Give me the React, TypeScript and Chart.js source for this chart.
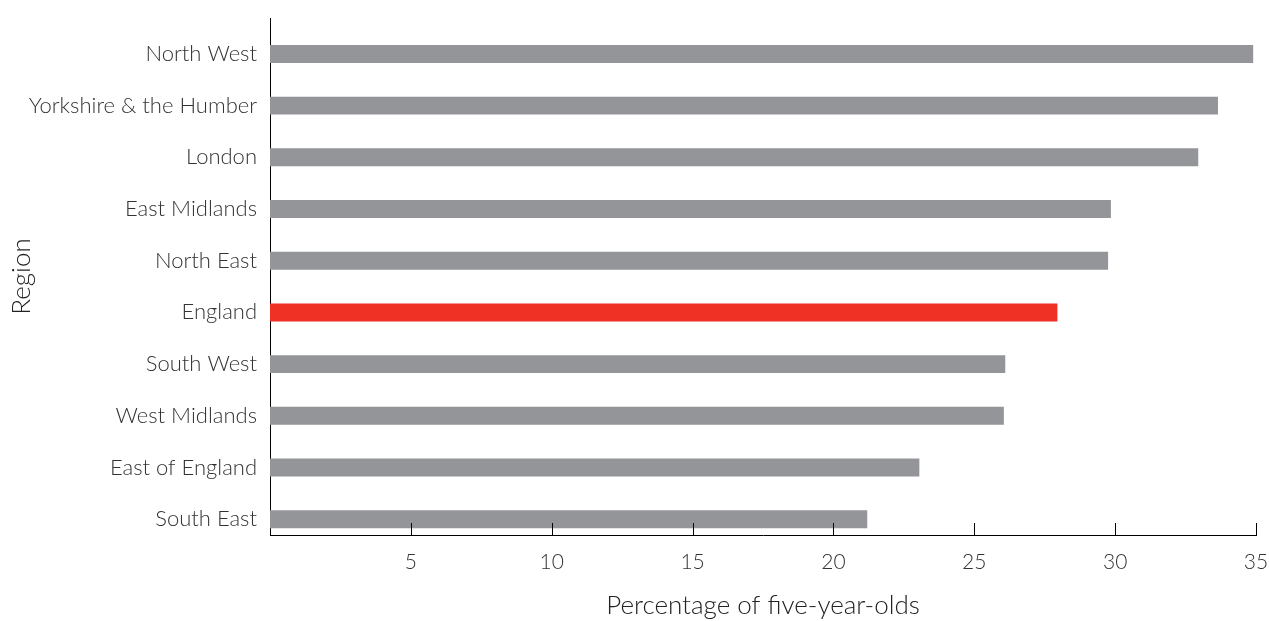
import React, { useEffect, useRef } from "react";
import { Chart, registerables } from "chart.js";

Chart.register(...registerables);

const regions = [
  "North West",
  "Yorkshire & the Humber",
  "London",
  "East Midlands",
  "North East",
  "England",
  "South West",
  "West Midlands",
  "East of England",
  "South East",
];
const percentages = [34.9, 33.65, 32.95, 29.85, 29.75, 27.95, 26.1, 26.05, 23.05, 21.2];
const barColors = regions.map((r) => (r === "England" ? "#EE3124" : "#939598"));
const xTicks = [5, 10, 15, 20, 25, 30, 35];

const FONT = "Lato, 'Open Sans', sans-serif";

const innerTicks = {
  id: "innerTicks",
  afterDraw(chart: any) {
    const x = chart.scales.x;
    const ctx = chart.ctx;
    const bottom = chart.chartArea.bottom;
    ctx.save();
    ctx.strokeStyle = "#000";
    ctx.lineWidth = 1;
    xTicks.forEach((v) => {
      const px = Math.round(x.getPixelForValue(v)) + 0.5;
      ctx.beginPath();
      ctx.moveTo(px, bottom);
      ctx.lineTo(px, bottom - 12);
      ctx.stroke();
    });
    ctx.restore();
  },
};

export default function App() {
  const ref = useRef<HTMLCanvasElement>(null);
  useEffect(() => {
    if (!ref.current) return;
    const chart = new Chart(ref.current, {
      type: "bar",
      data: {
        labels: regions,
        datasets: [
          { label: "spacer", data: [], backgroundColor: "transparent" },
          {
            label: "Percentage",
            data: percentages,
            backgroundColor: barColors,
          },
        ],
      },
      options: {
        indexAxis: "y",
        animation: false,
        responsive: false,
        maintainAspectRatio: false,
        layout: { padding: { top: 18, right: 13, left: 0, bottom: 0 } },
        datasets: { bar: { categoryPercentage: 0.78, barPercentage: 0.89 } } as any,
        plugins: { legend: { display: false }, tooltip: { enabled: false } },
        scales: {
          x: {
            type: "linear",
            min: 0,
            max: 35,
            afterBuildTicks: (scale: any) => {
              scale.ticks = [0, ...xTicks].map((v) => ({ value: v }));
            },
            afterFit: (scale: any) => {
              scale.height = 86;
              scale.paddingLeft = 0;
              scale.paddingRight = 0;
            },
            border: { display: true, color: "#000", width: 1 },
            grid: { display: false, drawTicks: false },
            ticks: {
              padding: 15,
              color: "#333",
              font: { family: FONT, size: 21, weight: 300 as any },
              callback: (v: any) => (v === 0 ? "" : String(v)),
            },
            title: {
              display: true,
              text: "Percentage of five-year-olds",
              color: "#222",
              font: { family: FONT, size: 26, weight: 300 as any },
              padding: { top: 0, bottom: 0 },
            },
          },
          y: {
            type: "category",
            afterFit: (scale: any) => {
              scale.width = 270;
              scale.paddingTop = 0;
              scale.paddingBottom = 0;
            },
            border: { display: true, color: "#000", width: 1 },
            grid: { display: false, drawTicks: false },
            ticks: {
              padding: 13,
              labelOffset: 10,
              color: "#333",
              font: { family: FONT, size: 22, weight: 300 as any },
            },
            title: {
              display: true,
              text: "Region",
              color: "#222",
              font: { family: FONT, size: 26, weight: 300 as any },
              padding: { top: 6, bottom: 0 },
            },
          },
        },
      },
      plugins: [innerTicks],
    });
    return () => chart.destroy();
  }, []);
  return (
    <div style={{ position: "absolute", left: 0, top: 0, width: 1269, height: 621, background: "#fff" }}>
      <canvas ref={ref} width={1269} height={621} style={{ width: 1269, height: 621, display: "block" }} />
    </div>
  );
}
